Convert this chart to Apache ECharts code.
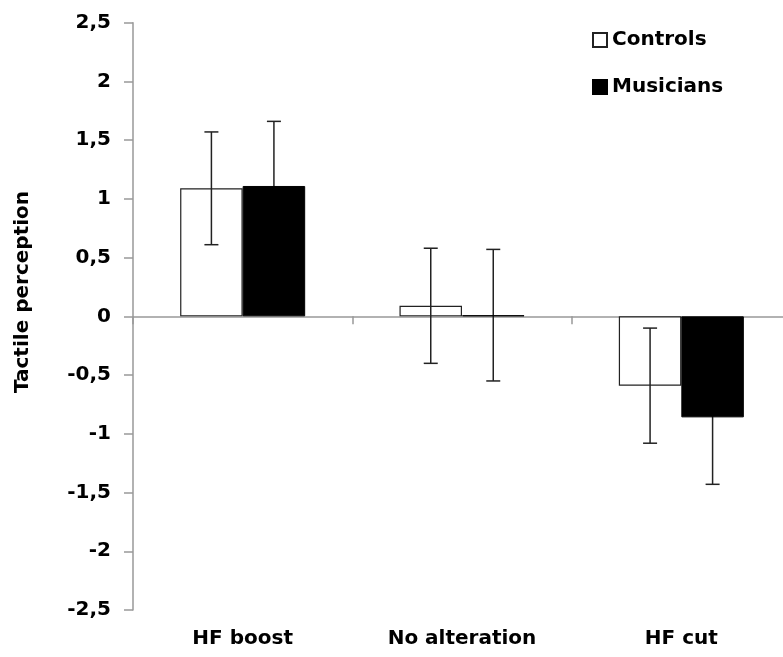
<!DOCTYPE html>
<html>
<head>
<meta charset="utf-8">
<script src="https://cdn.jsdelivr.net/npm/echarts@6/dist/echarts.min.js"></script>
<style>
  html, body { margin: 0; padding: 0; background: #fff; }
  #chart { width: 783px; height: 657px; }
</style>
</head>
<body>
<div id="chart"></div>
<script>
// Tactile perception by sound condition, group means with error bars
const categories = ['HF boost', 'No alteration', 'HF cut'];
const controlsMean = [1.09, 0.09, -0.59];
const controlsErr = [0.48, 0.49, 0.49];
const musiciansMean = [1.11, 0.01, -0.86];
const musiciansErr = [0.55, 0.56, 0.57];
const seriesNames = ['Controls', 'Musicians'];
const yTicks = { min: -2.5, max: 2.5, step: 0.5 };

const FONT = '"DejaVu Sans", sans-serif';
const FONT_SIZE = 20;
const BAR_FRACTION = 0.285; // share of each category band taken by one bar
const AXIS_GREY = '#999';

function errorBarRenderer(side) {
  return function (params, api) {
    const cat = api.value(0);
    const mean = api.value(1);
    const err = api.value(2);
    const band = api.size([1, 0])[0];
    const cx = api.coord([cat, mean])[0] + side * band * BAR_FRACTION / 2;
    const yTop = api.coord([cat, mean + err])[1];
    const yBot = api.coord([cat, mean - err])[1];
    const cap = 7;
    const style = { stroke: '#222', lineWidth: 1.5 };
    return {
      type: 'group',
      children: [
        { type: 'line', shape: { x1: cx, y1: yTop, x2: cx, y2: yBot }, style },
        { type: 'line', shape: { x1: cx - cap, y1: yTop, x2: cx + cap, y2: yTop }, style },
        { type: 'line', shape: { x1: cx - cap, y1: yBot, x2: cx + cap, y2: yBot }, style }
      ]
    };
  };
}

const chart = echarts.init(document.getElementById('chart'), null, { renderer: 'canvas' });

chart.setOption({
  backgroundColor: '#fff',
  animation: false,
  grid: { left: 133, right: -8, top: 22.7, bottom: 47, outerBoundsMode: 'none', containLabel: false },
  legend: {
    data: seriesNames,
    orient: 'vertical',
    left: 592,
    top: 30,
    padding: 0,
    itemWidth: 14,
    itemHeight: 14,
    itemGap: 27,
    icon: 'rect',
    textStyle: { fontFamily: FONT, fontWeight: 'bold', fontSize: FONT_SIZE, color: '#000' }
  },
  xAxis: [
    {
      type: 'category',
      data: categories,
      position: 'bottom',
      axisLine: { show: true, onZero: true, lineStyle: { color: AXIS_GREY, width: 1.5 } },
      axisTick: { show: true, length: 8, lineStyle: { color: AXIS_GREY, width: 1.5 } },
      axisLabel: { show: false },
      splitLine: { show: false }
    },
    {
      type: 'category',
      data: categories,
      position: 'bottom',
      axisLine: { show: false, onZero: false },
      axisTick: { show: false },
      axisLabel: { margin: 19, fontFamily: FONT, fontWeight: 'bold', fontSize: FONT_SIZE, color: '#000' },
      splitLine: { show: false }
    }
  ],
  yAxis: {
    type: 'value',
    min: yTicks.min,
    max: yTicks.max,
    interval: yTicks.step,
    axisLine: { show: true, lineStyle: { color: AXIS_GREY, width: 1.5 } },
    axisTick: { show: true, length: 9, lineStyle: { color: AXIS_GREY, width: 1.5 } },
    splitLine: { show: false },
    axisLabel: {
      margin: 22,
      fontFamily: FONT,
      fontWeight: 'bold',
      fontSize: FONT_SIZE,
      color: '#000',
      formatter: v => String(Math.round(v * 10) / 10).replace('.', ',')
    }
  },
  graphic: [{
    type: 'text',
    x: 23,
    y: 292,
    rotation: Math.PI / 2,
    style: {
      text: 'Tactile perception',
      fontFamily: FONT,
      fontWeight: 'bold',
      fontSize: FONT_SIZE,
      fill: '#000',
      align: 'center',
      verticalAlign: 'middle'
    }
  }],
  series: [
    {
      name: seriesNames[0],
      type: 'bar',
      xAxisIndex: 0,
      data: controlsMean,
      barWidth: (BAR_FRACTION * 100) + '%',
      barGap: '0%',
      itemStyle: { color: '#fff', borderColor: '#222', borderWidth: 1.2 },
      z: 2
    },
    {
      name: 'controlsError',
      type: 'custom',
      xAxisIndex: 0,
      renderItem: errorBarRenderer(-1),
      encode: { x: 0, y: 1 },
      data: categories.map((c, i) => [i, controlsMean[i], controlsErr[i]]),
      z: 3
    },
    {
      name: 'musiciansError',
      type: 'custom',
      xAxisIndex: 0,
      renderItem: errorBarRenderer(1),
      encode: { x: 0, y: 1 },
      data: categories.map((c, i) => [i, musiciansMean[i], musiciansErr[i]]),
      z: 3
    },
    {
      name: seriesNames[1],
      type: 'bar',
      xAxisIndex: 0,
      data: musiciansMean,
      barWidth: (BAR_FRACTION * 100) + '%',
      barGap: '0%',
      itemStyle: { color: '#000', borderColor: '#000', borderWidth: 1 },
      z: 4
    }
  ]
});
</script>
</body>
</html>
